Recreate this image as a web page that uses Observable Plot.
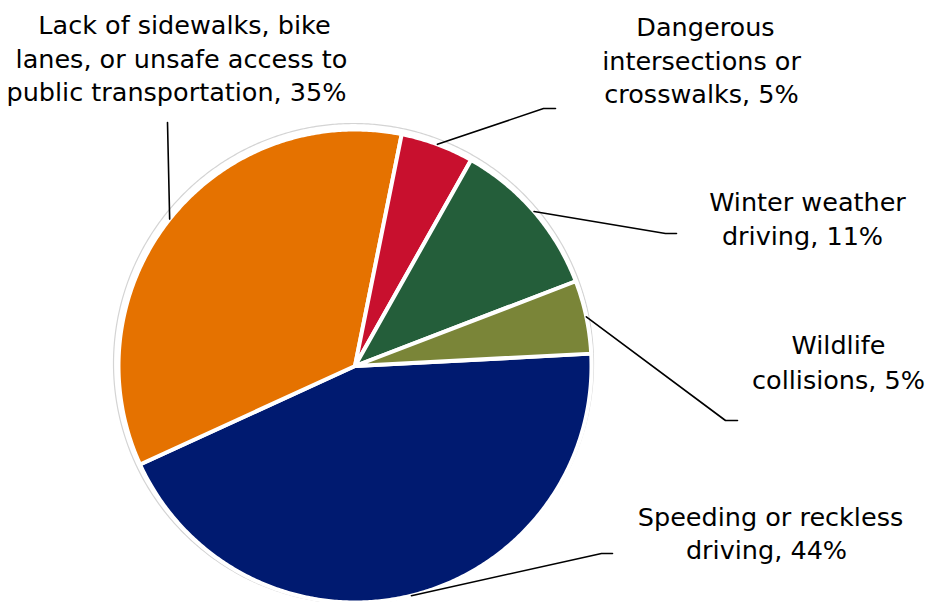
<!DOCTYPE html>
<html><head><meta charset="utf-8">
<script src="https://cdn.jsdelivr.net/npm/d3@7"></script>
<script src="https://cdn.jsdelivr.net/npm/@observablehq/plot@0.6"></script>
<style>body{margin:0;background:#fff}</style>
</head><body><div id="chart"></div>
<script>
// ---- data ----
const categories = [
  "Speeding or reckless driving",
  "Lack of sidewalks, bike lanes, or unsafe access to public transportation",
  "Dangerous intersections or crosswalks",
  "Winter weather driving",
  "Wildlife collisions"
];
const values = [44, 35, 5, 11, 5];
const labelLines = [
  ["Speeding or reckless", "driving, 44%"],
  ["Lack of sidewalks, bike", "lanes, or unsafe access to", "public transportation, 35%"],
  ["Dangerous", "intersections or", "crosswalks, 5%"],
  ["Winter weather", "driving, 11%"],
  ["Wildlife", "collisions, 5%"]
];
const colors = ["#001a70", "#e57200", "#c8102e", "#245e3a", "#7a8538"];

// ---- layout (pixels) ----
const W = 929, H = 602;
const cx = 354.5, cy = 365.5, R = 236.5;
const startDeg = 87;
// label line centers / baselines
const labelPos = [
  [[770, 525], [766, 558]],
  [[184, 33], [181, 67], [176, 100]],
  [[705, 35], [701, 69], [701, 102]],
  [[807, 210], [802, 244]],
  [[838, 353], [838, 388]]
];
// leader line elbow points
const leaderPts = [
  [[601, 553], [612, 553]],
  [[167, 122]],
  [[543, 108], [555, 108]],
  [[665, 233], [676, 233]],
  [[725, 420], [737, 420]]
];

const toX = px => px - cx, toY = py => cy - py;

const rows = categories.map((c, i) => ({category: c, value: values[i], color: colors[i]}));
const a0 = startDeg * Math.PI / 180;
const arcs = d3.pie().sort(null).value(d => d.value).startAngle(a0).endAngle(a0 + 2 * Math.PI)(rows);

const slicePts = arcs.flatMap(a => {
  const n = Math.max(2, Math.ceil((a.endAngle - a.startAngle) / (Math.PI / 360)));
  const pts = [{key: a.data.category, color: a.data.color, x: 0, y: 0}];
  for (let k = 0; k <= n; k++) {
    const t = a.startAngle + (a.endAngle - a.startAngle) * k / n;
    pts.push({key: a.data.category, color: a.data.color, x: R * Math.sin(t), y: R * Math.cos(t)});
  }
  return pts;
});

const ringPts = d3.range(0, 721).map(k => {
  const t = k / 720 * 2 * Math.PI;
  return {x: toX(353) + 240 * Math.sin(t), y: toY(363) + 240 * Math.cos(t)};
});

const leaderRows = arcs.flatMap((a, i) => {
  const m = (a.startAngle + a.endAngle) / 2;
  const pts = [{key: i, x: R * Math.sin(m), y: R * Math.cos(m)}];
  leaderPts[i].forEach(([px, py]) => pts.push({key: i, x: toX(px), y: toY(py)}));
  return pts;
});

const textRows = labelLines.flatMap((lines, i) =>
  lines.map((t, j) => ({text: t, x: toX(labelPos[i][j][0]), y: toY(labelPos[i][j][1])})));

const chart = Plot.plot({
  width: W, height: H,
  margin: 0,
  style: {fontFamily: "'DejaVu Sans', sans-serif", background: "#fff"},
  x: {domain: [-cx, W - cx], axis: null},
  y: {domain: [cy - H, cy], axis: null},
  marks: [
    Plot.line(ringPts, {x: "x", y: "y", stroke: "#d4d4d4", strokeWidth: 1.2}),
    Plot.line(slicePts, {x: "x", y: "y", z: "key", fill: d => d.color, stroke: "white", strokeWidth: 4, strokeLinejoin: "round", curve: "linear-closed"}),
    Plot.line(leaderRows, {x: "x", y: "y", z: "key", stroke: "#000", strokeWidth: 1.6}),
    Plot.text(textRows, {x: "x", y: "y", text: "text", fontSize: 25.5, textAnchor: "middle", lineAnchor: "bottom", fill: "#000"})
  ]
});
document.getElementById("chart").appendChild(chart);
</script>
</body></html>
